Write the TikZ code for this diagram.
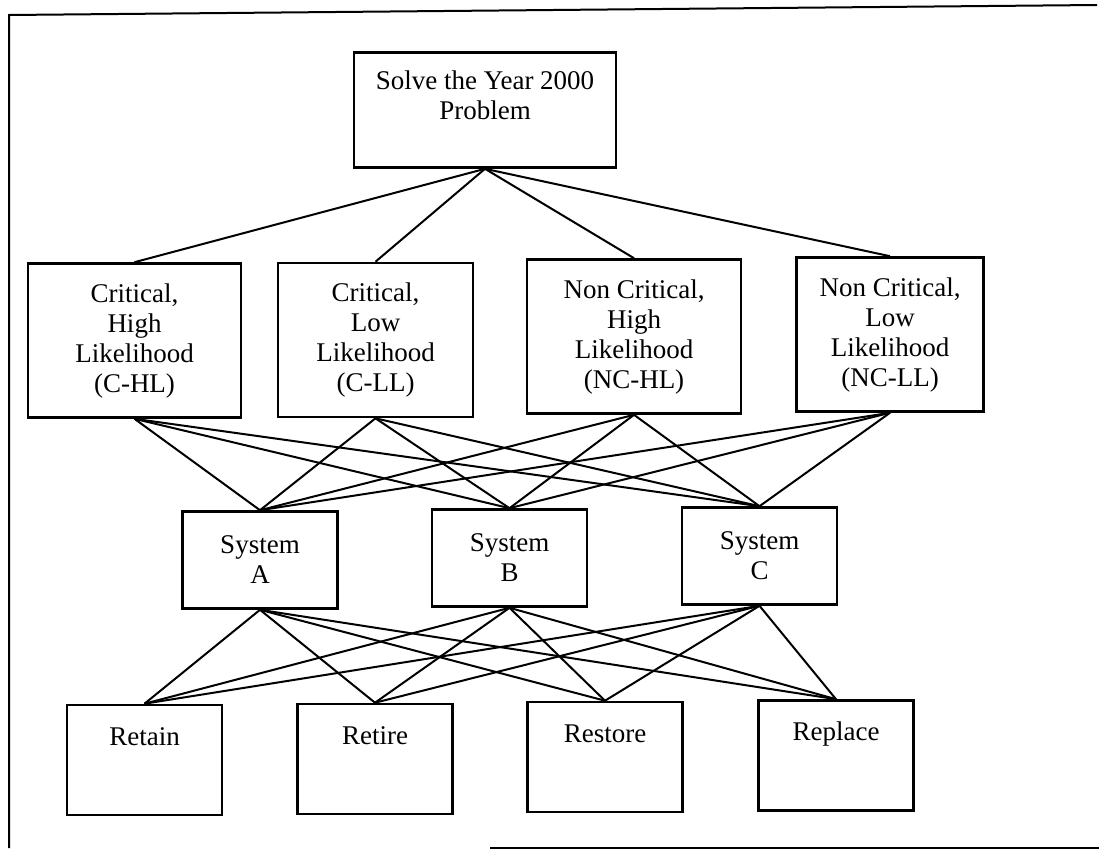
\documentclass[tikz,border=0pt]{standalone}
\usepackage{fontspec}
\setmainfont{Liberation Serif}
\usetikzlibrary{positioning}

\begin{document}
\begin{tikzpicture}[
  x=1pt, y=-1pt,
  font={\fontsize{27}{30}\selectfont},
  box/.style={draw,line width=2.6pt,inner sep=2pt,align=center},
  goal/.style={box,minimum width=262,minimum height=115},
  category/.style={box,minimum height=154},
  system/.style={box,minimum width=155,minimum height=97},
  action/.style={box,minimum width=155,minimum height=110,text height=20pt,text depth=50pt},
  link/.style={-,line width=2pt},
]
  \useasboundingbox (0,0) rectangle (1099,857);

  % Frame round the figure
  \draw[line width=2pt] (1097,5) -- (9,15) -- (9,848);
  \draw[line width=1.4pt] (490,848) -- (1099,848);

  % Goal
  \node[goal] (goal) at (485,110) {Solve the Year 2000\\Problem\\[-10pt]\strut};

  % Categories
  \node[category,minimum width=213] (chl) at (134.5,340.5) {Critical,\\High\\Likelihood\\(C-HL)};
  \node[category,minimum width=195] (cll) at (375.5,340) {Critical,\\Low\\Likelihood\\(C-LL)};
  \node[category,minimum width=214] (nchl) at (634,336.5) {Non Critical,\\High\\Likelihood\\(NC-HL)};
  \node[category,minimum width=187] (ncll) at (890,334.5) {Non Critical,\\Low\\Likelihood\\(NC-LL)};

  % Systems
  \node[system] (sysa) at (260,560) {System\\A};
  \node[system] (sysb) at (509.5,558) {System\\B};
  \node[system] (sysc) at (759.5,556) {System\\C};

  % Alternatives
  \node[action] (retain) at (144.5,760) {Retain};
  \node[action] (retire) at (375,759) {Retire};
  \node[action] (restore) at (605,757) {Restore};
  \node[action] (replace) at (836,755.5) {Replace};

  % Goal to categories
  \draw[link] (goal.south) -- (chl.north);
  \draw[link] (goal.south) -- (cll.north);
  \draw[link] (goal.south) -- (nchl.north);
  \draw[link] (goal.south) -- (ncll.north);

  % Categories to systems
  \draw[link] (chl.south) -- (sysa.north);
  \draw[link] (chl.south) -- (sysb.north);
  \draw[link] (chl.south) -- (sysc.north);
  \draw[link] (cll.south) -- (sysa.north);
  \draw[link] (cll.south) -- (sysb.north);
  \draw[link] (cll.south) -- (sysc.north);
  \draw[link] (nchl.south) -- (sysa.north);
  \draw[link] (nchl.south) -- (sysb.north);
  \draw[link] (nchl.south) -- (sysc.north);
  \draw[link] (ncll.south) -- (sysa.north);
  \draw[link] (ncll.south) -- (sysb.north);
  \draw[link] (ncll.south) -- (sysc.north);

  % Systems to alternatives
  \draw[link] (sysa.south) -- (retain.north);
  \draw[link] (sysa.south) -- (retire.north);
  \draw[link] (sysa.south) -- (restore.north);
  \draw[link] (sysa.south) -- (replace.north);
  \draw[link] (sysb.south) -- (retain.north);
  \draw[link] (sysb.south) -- (retire.north);
  \draw[link] (sysb.south) -- (restore.north);
  \draw[link] (sysb.south) -- (replace.north);
  \draw[link] (sysc.south) -- (retain.north);
  \draw[link] (sysc.south) -- (retire.north);
  \draw[link] (sysc.south) -- (restore.north);
  \draw[link] (sysc.south) -- (replace.north);

\end{tikzpicture}
\end{document}
